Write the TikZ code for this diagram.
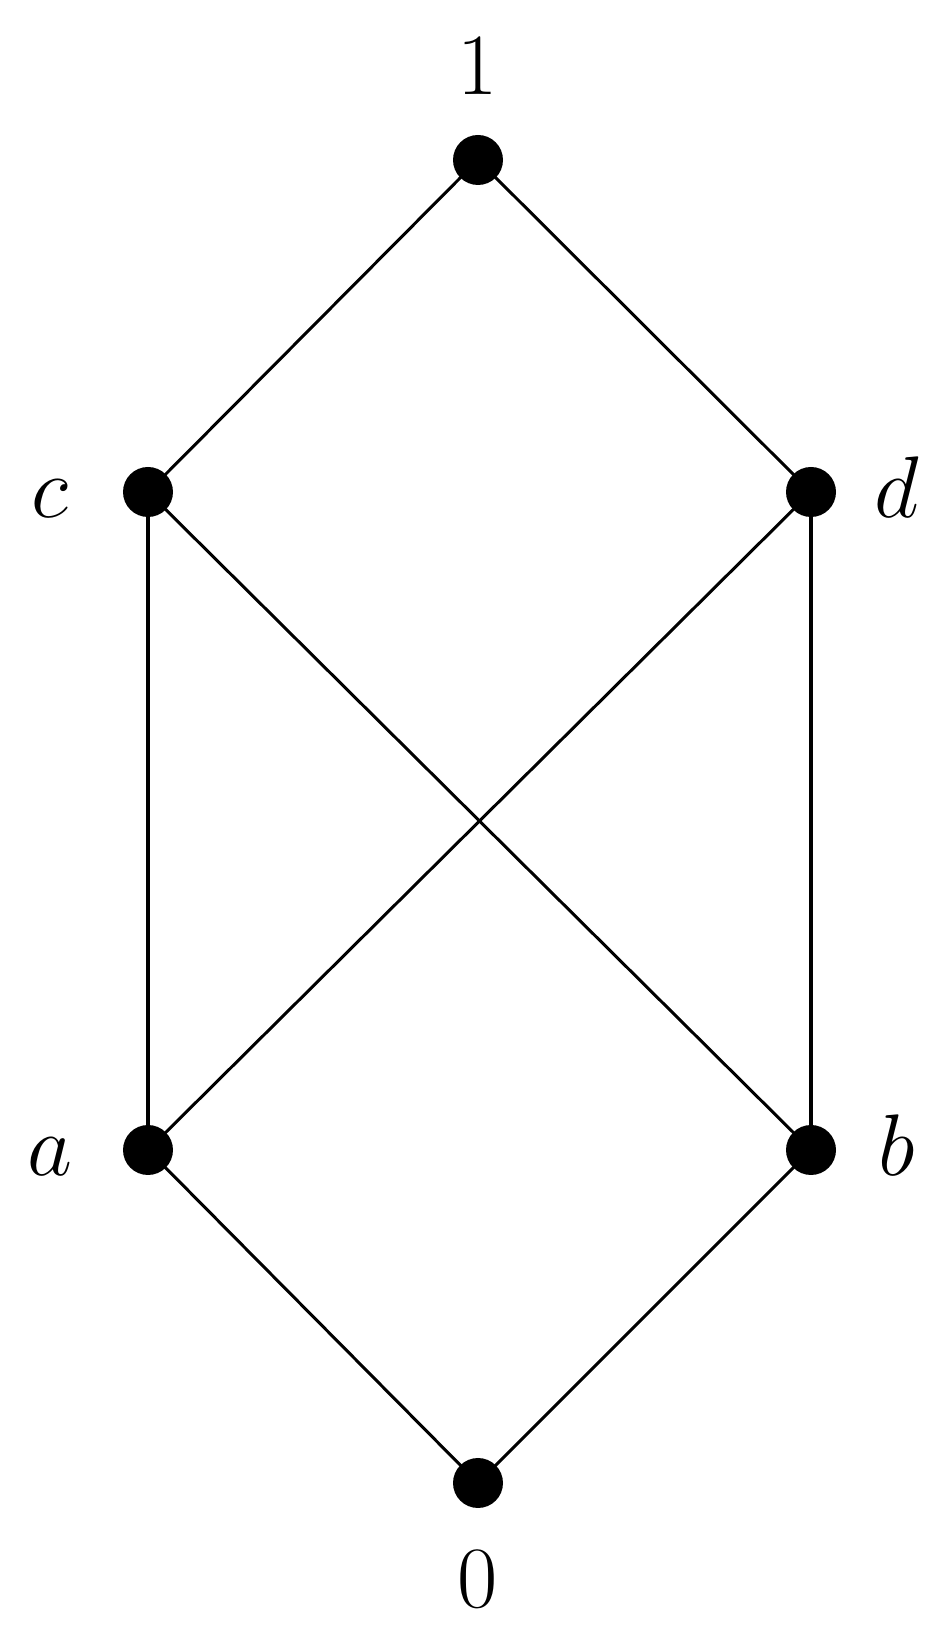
\documentclass[tikz,border=0pt]{standalone}
\begin{document}
\begin{tikzpicture}[every node/.style={font=\fontsize{26}{30}\selectfont},
                    elem/.style={circle,fill=black,inner sep=0pt,minimum size=0.5cm},
                    lbl/.style={anchor=base,inner sep=0pt},
                    line width=0.85pt]
                \useasboundingbox (0,0) rectangle (9.5,16.44);
                \node[elem] (1) at (4.78, 14.84) {};
                \node[elem] (c) at (1.48, 11.52) {};
                \node[elem] (d) at (8.11, 11.52) {};
                \node[elem] (a) at (1.48, 4.94) {};
                \node[elem] (b) at (8.11, 4.94) {};
                \node[elem] (0) at (4.78, 1.61) {};
                \node[lbl] (l1) at (4.78, 15.49) {$1$};
                \node[lbl] (lc) at (0.50, 11.26) {$c$};
                \node[lbl] (ld) at (8.97, 11.26) {$d$};
                \node[lbl] (la) at (0.50, 4.68) {$a$};
                \node[lbl] (lb) at (8.97, 4.68) {$b$};
                \node[lbl] (l0) at (4.78, 0.36) {$0$};
                \draw (1.center) to (c.center);
                \draw (1.center) to (d.center);
                \draw[line width=1.3pt] (c.center) to (a.center);
                \draw (c.center) to (b.center);
                \draw (d.center) to (a.center);
                \draw[line width=1.3pt] (d.center) to (b.center);
                \draw (a.center) to (0.center);
                \draw (b.center) to (0.center);
    \end{tikzpicture}
\end{document}
